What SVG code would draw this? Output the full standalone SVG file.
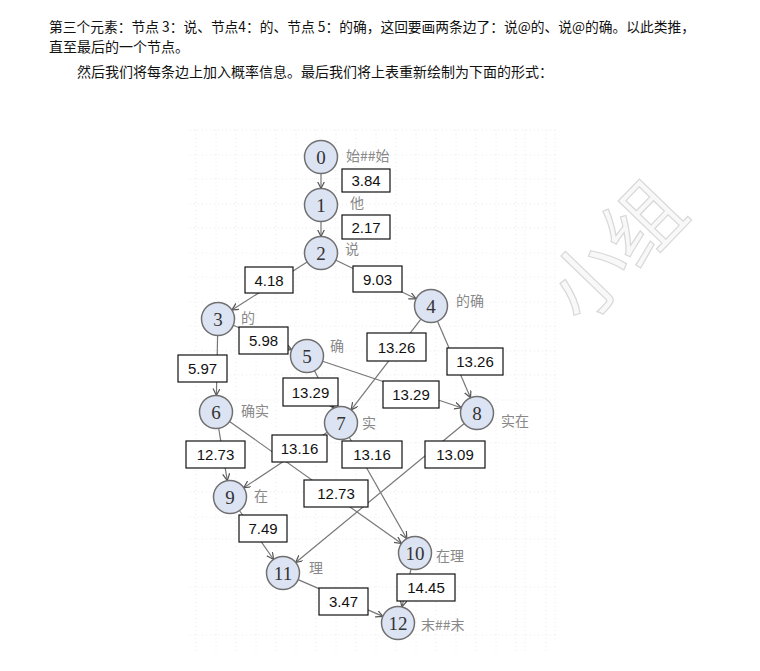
<svg xmlns="http://www.w3.org/2000/svg" width="760" height="671" viewBox="0 0 760 671">
<style>
.para{font-family:"Noto Sans CJK SC","Noto Sans",sans-serif;font-size:14px;fill:#111}
.gl{stroke:#ebebeb;stroke-width:1;stroke-dasharray:1 3}
.edge{stroke:#777;stroke-width:1.2;fill:none;marker-end:url(#arr)}
.box rect{fill:#fff;stroke:#111;stroke-width:1.2}
.box text{font-family:"Liberation Sans","Open Sans",sans-serif;font-size:15px;fill:#111;text-anchor:middle}
.node circle{fill:#dce3f2;stroke:#707070;stroke-width:1.5}
.node .num{font-family:"Liberation Serif",serif;font-size:19px;fill:#333;text-anchor:middle}
.node .lbl{font-family:"Noto Sans CJK SC","Noto Sans",sans-serif;font-size:14px;fill:#888}
.wm{font-family:"Noto Sans CJK SC",sans-serif;font-size:78px;fill:#f8f8f8;stroke:#d8d8d8;stroke-width:1.2}
</style>
<defs>
<marker id="arr" markerUnits="userSpaceOnUse" markerWidth="9" markerHeight="9" refX="7" refY="3.5" orient="auto">
<path d="M0,0 L7,3.5 L0,7" fill="none" stroke="#555" stroke-width="1.2"/>
</marker>
</defs>
<rect width="760" height="671" fill="#fff"/>
<g id="text">
<text class="para" x="49" y="32" textLength="646" lengthAdjust="spacingAndGlyphs">第三个元素：节点 3：说、节点4：的、节点 5：的确，这回要画两条边了：说@的、说@的确。以此类推，</text>
<text class="para" x="49" y="52">直至最后的一个节点。</text>
<text class="para" x="77" y="77">然后我们将每条边上加入概率信息。最后我们将上表重新绘制为下面的形式：</text>
</g>
<g id="grid">
<line class="gl" x1="196" y1="130" x2="196" y2="652"/>
<line class="gl" x1="216" y1="130" x2="216" y2="652"/>
<line class="gl" x1="236" y1="130" x2="236" y2="652"/>
<line class="gl" x1="256" y1="130" x2="256" y2="652"/>
<line class="gl" x1="276" y1="130" x2="276" y2="652"/>
<line class="gl" x1="296" y1="130" x2="296" y2="652"/>
<line class="gl" x1="316" y1="130" x2="316" y2="652"/>
<line class="gl" x1="336" y1="130" x2="336" y2="652"/>
<line class="gl" x1="356" y1="130" x2="356" y2="652"/>
<line class="gl" x1="376" y1="130" x2="376" y2="652"/>
<line class="gl" x1="396" y1="130" x2="396" y2="652"/>
<line class="gl" x1="416" y1="130" x2="416" y2="652"/>
<line class="gl" x1="436" y1="130" x2="436" y2="652"/>
<line class="gl" x1="456" y1="130" x2="456" y2="652"/>
<line class="gl" x1="476" y1="130" x2="476" y2="652"/>
<line class="gl" x1="496" y1="130" x2="496" y2="652"/>
<line class="gl" x1="516" y1="130" x2="516" y2="652"/>
<line class="gl" x1="525" y1="130" x2="525" y2="652"/>
<line class="gl" x1="546" y1="130" x2="546" y2="652"/>
<line class="gl" x1="555" y1="130" x2="555" y2="640"/>
<line class="gl" x1="190" y1="130" x2="556" y2="130"/>
<line class="gl" x1="190" y1="155" x2="556" y2="155"/>
<line class="gl" x1="190" y1="179" x2="556" y2="179"/>
<line class="gl" x1="190" y1="204" x2="556" y2="204"/>
<line class="gl" x1="190" y1="228" x2="556" y2="228"/>
<line class="gl" x1="190" y1="253" x2="556" y2="253"/>
<line class="gl" x1="190" y1="277" x2="556" y2="277"/>
<line class="gl" x1="190" y1="302" x2="556" y2="302"/>
<line class="gl" x1="190" y1="326" x2="556" y2="326"/>
<line class="gl" x1="190" y1="351" x2="556" y2="351"/>
<line class="gl" x1="190" y1="375" x2="556" y2="375"/>
<line class="gl" x1="190" y1="400" x2="556" y2="400"/>
<line class="gl" x1="190" y1="443" x2="556" y2="443"/>
<line class="gl" x1="190" y1="492" x2="556" y2="492"/>
<line class="gl" x1="190" y1="517" x2="556" y2="517"/>
<line class="gl" x1="190" y1="539" x2="556" y2="539"/>
<line class="gl" x1="190" y1="587" x2="556" y2="587"/>
<line class="gl" x1="190" y1="635" x2="556" y2="635"/>
</g>
<g id="watermark">
<text class="wm" x="612" y="247" text-anchor="middle" dominant-baseline="central" transform="rotate(-46 612 247)">小组</text>
</g>
<g id="connectors">
<line class="edge" x1="321" y1="173.5" x2="321" y2="188.5"/>
<line class="edge" x1="321" y1="221.5" x2="321" y2="236.5"/>
<line class="edge" x1="307.1" y1="261.9" x2="231.9" y2="310.1"/>
<line class="edge" x1="335.9" y1="260.2" x2="416.1" y2="298.8"/>
<line class="edge" x1="233.2" y1="325.3" x2="291.8" y2="349.7"/>
<line class="edge" x1="217.6" y1="335.5" x2="216.4" y2="395.5"/>
<line class="edge" x1="420.9" y1="319.1" x2="351.1" y2="409.9"/>
<line class="edge" x1="437.5" y1="321.2" x2="470.5" y2="397.8"/>
<line class="edge" x1="314.5" y1="370.7" x2="333.5" y2="408.3"/>
<line class="edge" x1="322.6" y1="361.2" x2="461.4" y2="407.8"/>
<line class="edge" x1="218.7" y1="428.3" x2="227.3" y2="480.7"/>
<line class="edge" x1="229.5" y1="421.5" x2="401.5" y2="543.5"/>
<line class="edge" x1="327.3" y1="432.2" x2="243.7" y2="487.8"/>
<line class="edge" x1="349.2" y1="437.3" x2="406.8" y2="538.7"/>
<line class="edge" x1="464.3" y1="423.5" x2="295.7" y2="562.5"/>
<line class="edge" x1="239.4" y1="510.5" x2="273.6" y2="559.5"/>
<line class="edge" x1="411.1" y1="569" x2="401.9" y2="607"/>
<line class="edge" x1="298.1" y1="579.6" x2="382.9" y2="616.4"/>
</g>
<g id="weights">
<g class="box" id="w01"><rect x="342" y="169" width="48" height="23"/><text x="366" y="186">3.84</text></g>
<g class="box" id="w12"><rect x="342" y="215" width="48" height="24"/><text x="366" y="232.5">2.17</text></g>
<g class="box" id="w23"><rect x="245" y="267" width="48" height="26"/><text x="269" y="285.5">4.18</text></g>
<g class="box" id="w24"><rect x="353" y="266" width="49" height="26"/><text x="377.5" y="284.5">9.03</text></g>
<g class="box" id="w35"><rect x="239" y="327" width="49" height="27"/><text x="263.5" y="346">5.98</text></g>
<g class="box" id="w36"><rect x="178" y="355" width="49" height="27"/><text x="202.5" y="374">5.97</text></g>
<g class="box" id="w47"><rect x="367" y="333" width="59" height="28"/><text x="396.5" y="352.5">13.26</text></g>
<g class="box" id="w48"><rect x="447" y="348" width="56" height="27"/><text x="475" y="367">13.26</text></g>
<g class="box" id="w57"><rect x="283" y="378" width="55" height="28"/><text x="310.5" y="397.5">13.29</text></g>
<g class="box" id="w58"><rect x="383" y="381" width="56" height="27"/><text x="411" y="400">13.29</text></g>
<g class="box" id="w69"><rect x="186" y="441" width="59" height="27"/><text x="215.5" y="460">12.73</text></g>
<g class="box" id="w79"><rect x="272" y="435" width="55" height="27"/><text x="299.5" y="454">13.16</text></g>
<g class="box" id="w710"><rect x="342" y="441" width="60" height="27"/><text x="372" y="460">13.16</text></g>
<g class="box" id="w811"><rect x="425" y="441" width="60" height="27"/><text x="455" y="460">13.09</text></g>
<g class="box" id="w610"><rect x="304" y="480" width="64" height="27"/><text x="336" y="499">12.73</text></g>
<g class="box" id="w911"><rect x="239" y="515" width="48" height="27"/><text x="263" y="534">7.49</text></g>
<g class="box" id="w1012"><rect x="397" y="574" width="58" height="27"/><text x="426" y="593">14.45</text></g>
<g class="box" id="w1112"><rect x="319" y="588" width="49" height="27"/><text x="343.5" y="607">3.47</text></g>
</g>
<g id="nodes">
<g class="node" id="n0"><circle cx="321" cy="157" r="16.5"/><text class="num" x="321" y="163.5">0</text><text class="lbl" x="346" y="161">始##始</text></g>
<g class="node" id="n1"><circle cx="321" cy="205" r="16.5"/><text class="num" x="321" y="211.5">1</text><text class="lbl" x="350" y="208">他</text></g>
<g class="node" id="n2"><circle cx="321" cy="253" r="16.5"/><text class="num" x="321" y="259.5">2</text><text class="lbl" x="345" y="254">说</text></g>
<g class="node" id="n3"><circle cx="218" cy="319" r="16.5"/><text class="num" x="218" y="325.5">3</text><text class="lbl" x="241" y="323">的</text></g>
<g class="node" id="n4"><circle cx="431" cy="306" r="16.5"/><text class="num" x="431" y="312.5">4</text><text class="lbl" x="456" y="306">的确</text></g>
<g class="node" id="n5"><circle cx="307" cy="356" r="16.5"/><text class="num" x="307" y="362.5">5</text><text class="lbl" x="330" y="351">确</text></g>
<g class="node" id="n6"><circle cx="216" cy="412" r="16.5"/><text class="num" x="216" y="418.5">6</text><text class="lbl" x="241" y="416">确实</text></g>
<g class="node" id="n7"><circle cx="341" cy="423" r="16.5"/><text class="num" x="341" y="429.5">7</text><text class="lbl" x="362" y="428">实</text></g>
<g class="node" id="n8"><circle cx="477" cy="413" r="16.5"/><text class="num" x="477" y="419.5">8</text><text class="lbl" x="501" y="426">实在</text></g>
<g class="node" id="n9"><circle cx="230" cy="497" r="16.5"/><text class="num" x="230" y="503.5">9</text><text class="lbl" x="254" y="501">在</text></g>
<g class="node" id="n10"><circle cx="415" cy="553" r="16.5"/><text class="num" x="415" y="559.5">10</text><text class="lbl" x="436" y="561">在理</text></g>
<g class="node" id="n11"><circle cx="283" cy="573" r="16.5"/><text class="num" x="283" y="579.5">11</text><text class="lbl" x="309" y="573">理</text></g>
<g class="node" id="n12"><circle cx="398" cy="623" r="16.5"/><text class="num" x="398" y="629.5">12</text><text class="lbl" x="421" y="630">末##末</text></g>
</g>
</svg>
